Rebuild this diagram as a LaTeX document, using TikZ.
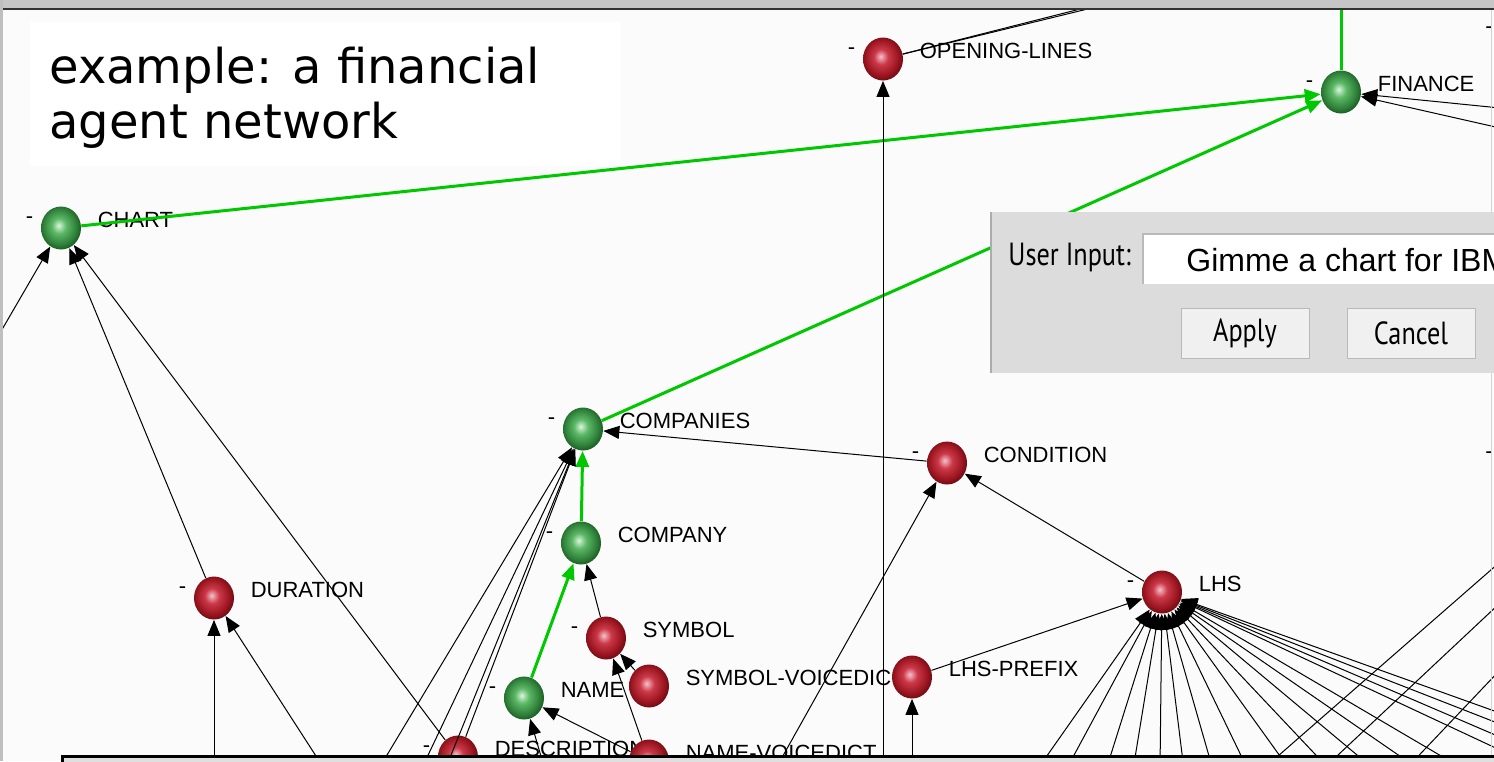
\documentclass[tikz,border=0pt]{standalone}
\usepackage{fontspec}
\setmainfont{Liberation Sans}
\newfontfamily\titlefont{DejaVu Sans}
\newfontfamily\uifont[FakeStretch=0.82]{PT Sans}
\usetikzlibrary{arrows.meta, shapes.geometric}

\definecolor{hotgreen}{RGB}{0,200,0}
\definecolor{canvas}{RGB}{251,251,251}
\definecolor{panel}{RGB}{220,220,220}

\pgfdeclareradialshading{redsphere}{\pgfpoint{-3bp}{3bp}}{%
   rgb(0bp)=(0.96,0.76,0.80); rgb(9bp)=(0.80,0.22,0.28);
   rgb(21bp)=(0.60,0.08,0.12); rgb(29bp)=(0.36,0.03,0.06); rgb(50bp)=(0.36,0.03,0.06)}
\pgfdeclareradialshading{greensphere}{\pgfpoint{-3bp}{3bp}}{%
   rgb(0bp)=(0.86,0.96,0.87); rgb(9bp)=(0.36,0.72,0.40);
   rgb(21bp)=(0.18,0.50,0.22); rgb(29bp)=(0.07,0.30,0.10); rgb(50bp)=(0.07,0.30,0.10)}

\begin{document}
\begin{tikzpicture}[x=0.5pt, y=-0.5pt,
   agent/.style={ellipse, minimum width=20pt, minimum height=21.5pt, inner sep=0pt},
   redagent/.style={agent, shading=redsphere},
   greenagent/.style={agent, shading=greensphere},
   agentlabel/.style={font=\fontsize{11}{13}\selectfont, inner sep=0pt, yshift=4pt},
   tagged/.style={label={[agentlabel, label distance=8pt]right:#1},
                  label={[agentlabel, label distance=3.5pt]left:-}},
   taggedonly/.style={label={[agentlabel, label distance=8pt]right:#1}},
   link/.style={line width=0.5pt, -{Triangle[length=8pt, width=6.5pt]}},
   hotlink/.style={hotgreen, line width=1.5pt, -{Triangle[length=8pt, width=6.5pt]}},
   plainlink/.style={line width=0.5pt},
   button/.style={draw=gray!55, fill=gray!12, minimum width=64pt, minimum height=25pt,
                  font={\uifont\fontsize{16}{19}\selectfont}}]

   \useasboundingbox (0,0) rectangle (1494,761);
   \clip (0,0) rectangle (1494,761);
   \fill[canvas] (0,0) rectangle (1494,761);

   % agents
   \node[greenagent, tagged=CHART] (chart) at (61,228) {};
   \node[redagent, tagged=OPENING-LINES] (openlines) at (883,59) {};
   \node[greenagent, tagged=FINANCE] (finance) at (1341,92) {};
   \node[greenagent, tagged=COMPANIES] (companies) at (583,429) {};
   \node[redagent, tagged=CONDITION] (condition) at (947,463) {};
   \node[greenagent, tagged=COMPANY] (company) at (581,543) {};
   \node[redagent, tagged=DURATION] (duration) at (214,598) {};
   \node[redagent, tagged=LHS] (lhs) at (1162,592) {};
   \node[redagent, tagged=SYMBOL] (symbol) at (606,638) {};
   \node[redagent, taggedonly=SYMBOL-VOICEDIC] (symvoice) at (649,686) {};
   \node[redagent, taggedonly=LHS-PREFIX] (lhspref) at (912,677) {};
   \node[greenagent, tagged=NAME] (name) at (524,698) {};
   \node[redagent, tagged=DESCRIPTION] (descr) at (458,757) {};
   \node[redagent, taggedonly=NAME-VOICEDICT] (namevoice) at (649,761) {};
   \node[agentlabel] (offdash1) at (1489,38) {-};
   \node[agentlabel] (offdash2) at (1489,463) {-};

   % ends outside the view
   \coordinate (fintop) at (1341,0);
   \coordinate (oltop1) at (1100,4);
   \coordinate (oltop2) at (1108,4);
   \coordinate (finr1) at (1500,108);
   \coordinate (finr2) at (1500,128);
   \coordinate (chartl) at (0,333);
   \coordinate (olb) at (883,770);
   \coordinate (durb1) at (214,770);
   \coordinate (durb2) at (325,770);
   \coordinate (compb1) at (378,770);
   \coordinate (compb2) at (421,770);
   \coordinate (compb3) at (445,770);
   \coordinate (condb) at (775,770);
   \coordinate (lhspb) at (912,770);
   \coordinate (nameb) at (545,770);

   % active path
   \draw[hotlink] (chart) -- (finance);
   \draw[hotlink] (companies) -- (finance);
   \draw[hotlink] (company) -- (companies);
   \draw[hotlink] (name) -- (company);
   \draw[hotgreen, line width=1.5pt] (finance) -- (fintop);

   % links
   \draw[plainlink] (openlines) -- (oltop1);
   \draw[plainlink] (openlines) -- (oltop2);
   \draw[link] (olb) -- (openlines);
   \draw[link] (finr1) -- (finance);
   \draw[link] (finr2) -- (finance);
   \draw[link] (condition) -- (companies);
   \draw[link] (symbol) -- (company);
   \draw[link] (symvoice) -- (symbol);
   \draw[link] (namevoice) -- (symbol);
   \draw[link] (namevoice) -- (name);
   \draw[link] (nameb) -- (name);
   \draw[link] (descr) -- (chart);
   \draw[link] (duration) -- (chart);
   \draw[link] (chartl) -- (chart);
   \draw[link] (durb1) -- (duration);
   \draw[link] (durb2) -- (duration);
   \draw[link] (descr) -- (companies);
   \draw[link] (compb1) -- (companies);
   \draw[link] (compb2) -- (companies);
   \draw[link] (compb3) -- (companies);
   \draw[link] (lhs) -- (condition);
   \draw[link] (condb) -- (condition);
   \draw[link] (lhspref) -- (lhs);
   \draw[link] (lhspb) -- (lhspref);
   \foreach \fx/\fy [count=\k] in {1037/770, 1066/770, 1106/770, 1133/770, 1160/770,
        1184/770, 1213/770, 1248/770, 1290/770, 1330/770, 1375/770, 1420/770,
        1465/770, 1500/750, 1500/737, 1500/724, 1500/713}
   {
      \coordinate (fan\k) at (\fx,\fy);
      \draw[link] (fan\k) -- (lhs);
   }
   \foreach \ax/\ay/\bx/\by [count=\k] in {1262/770/1500/562, 1322/770/1500/603, 1405/770/1500/670}
   {
      \coordinate (diag\k a) at (\ax,\ay);
      \coordinate (diag\k b) at (\bx,\by);
      \draw[plainlink] (diag\k a) -- (diag\k b);
   }

   % title
   \fill[white] (30,22) rectangle (621,166);
   \node[anchor=base west, inner sep=0pt, font={\titlefont\fontsize{24}{28}\selectfont}] (title1) at (49,83) {example: a financial};
   \node[anchor=base west, inner sep=0pt, font={\titlefont\fontsize{24}{28}\selectfont}] (title2) at (49,138) {agent network};

   % input dialog
   \fill[panel] (990,212) rectangle (1500,373);
   \draw[gray!65, line width=1pt] (991,212) -- (991,373);
   \fill[white] (1143,234) rectangle (1500,284);
   \draw[gray!55, line width=1pt] (1500,234) -- (1143,234) -- (1143,284);
   \node[anchor=west, inner sep=0pt, font={\uifont\fontsize{16}{19}\selectfont}] (inputlbl) at (1008,257) {User Input:};
   \node[anchor=west, inner sep=0pt, font=\fontsize{16}{19}\selectfont] (inputtxt) at (1186,260) {Gimme a chart for IBM};
   \node[button] (apply) at (1245,333) {Apply};
   \node[button] (cancel) at (1411,333) {Cancel};

   % window frame
   \draw[gray!35, line width=0.5pt] (1491,10) -- (1491,212) (1491,373) -- (1491,761);
   \fill[gray!45] (0,0) rectangle (1494,8);
   \draw[gray!40!black, line width=1pt] (0,9) -- (1494,9);
   \fill[gray!50] (0,0) rectangle (3,761);
   \filldraw[fill=gray!25, draw=black, line width=1.5pt] (62,756) rectangle (1510,790);
\end{tikzpicture}
\end{document}
